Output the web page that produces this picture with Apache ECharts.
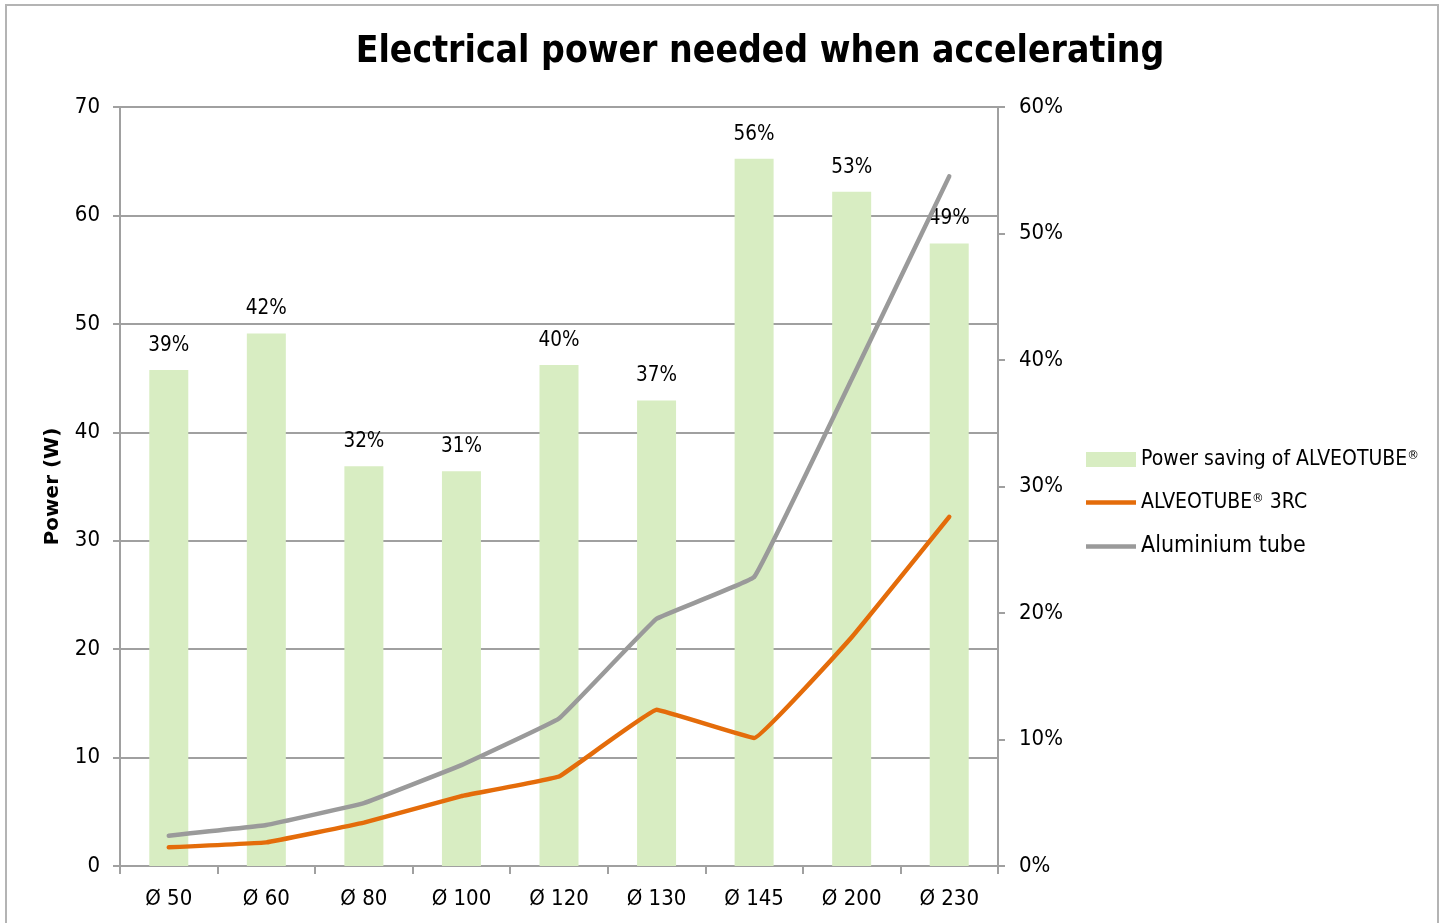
<!DOCTYPE html>
<html>
<head>
<meta charset="utf-8">
<script src="https://cdn.jsdelivr.net/npm/echarts@6/dist/echarts.min.js"></script>
<style>
html,body{margin:0;padding:0;background:#fff;}
#frame{position:absolute;left:5px;top:4px;width:1434px;height:930px;border:2px solid #b4b4b4;box-sizing:border-box;}
#chart{position:absolute;left:0;top:0;width:1449px;height:923px;}
</style>
</head>
<body>
<div id="frame"></div>
<div id="chart"></div>
<script>
const categories = ['Ø 50','Ø 60','Ø 80','Ø 100','Ø 120','Ø 130','Ø 145','Ø 200','Ø 230'];
const savingPct = [0.392,0.421,0.316,0.312,0.396,0.368,0.559,0.533,0.492];
const alveotube = [1.72,2.18,4.0,6.45,8.25,14.4,11.8,21.1,32.2];
const aluminium = [2.8,3.78,5.8,9.3,13.6,22.8,26.65,44.9,63.6];
const leftTicks = {min:0,max:70,interval:10};
const rightTicks = {min:0,max:0.6,interval:0.1};

const FONT = '"DejaVu Sans Condensed","DejaVu Sans",sans-serif';
const LINE_ICON = 'path://M0,0 L50,0 L50,4.5 L0,4.5 Z';
const chart = echarts.init(document.getElementById('chart'), null, {renderer:'canvas'});
chart.setOption({
  animation:false,
  backgroundColor:'transparent',
  title:{
    text:'Electrical power needed when accelerating',
    left:755, top:29, textAlign:'center',
    textStyle:{fontFamily:FONT,fontWeight:'bold',fontSize:37,color:'#000'}
  },
  grid:{left:120,right:451,top:107,bottom:57,containLabel:false},
  legend:{
    orient:'vertical', left:1081, top:444, itemGap:22, itemWidth:50, itemHeight:15, itemTextGap:0,
    textStyle:{fontFamily:FONT,fontSize:21,color:'#000',
      rich:{s:{fontFamily:FONT,fontSize:13,color:'#000',verticalAlign:'top'}}},
    formatter:name=>name.replace('®','{s|®}'),
    data:[
      {name:'Power saving of ALVEOTUBE®', icon:'rect', textStyle:{fontSize:21}},
      {name:'ALVEOTUBE® 3RC', icon:LINE_ICON, textStyle:{fontSize:21}},
      {name:'Aluminium tube', icon:LINE_ICON, textStyle:{fontSize:23}}
    ]
  },
  xAxis:{
    type:'category', data:categories, boundaryGap:true,
    axisLine:{lineStyle:{color:'#a0a0a0',width:2}},
    axisTick:{show:true,length:8,lineStyle:{color:'#a0a0a0',width:2}},
    axisLabel:{fontFamily:FONT,fontSize:22,color:'#000',margin:22}
  },
  yAxis:[
    {type:'value',min:leftTicks.min,max:leftTicks.max,interval:leftTicks.interval,position:'left',
     name:'Power (W)',nameLocation:'middle',nameGap:57,nameRotate:90,
     nameTextStyle:{fontFamily:'"DejaVu Sans",sans-serif',fontWeight:'bold',fontSize:20,color:'#000'},
     axisLine:{show:true,lineStyle:{color:'#a0a0a0',width:2}},
     axisTick:{show:true,length:7,lineStyle:{color:'#a0a0a0',width:2}},
     splitLine:{show:true,lineStyle:{color:'#a0a0a0',width:2}},
     axisLabel:{fontFamily:FONT,fontSize:22,color:'#000',margin:20}},
    {type:'value',min:rightTicks.min,max:rightTicks.max,interval:rightTicks.interval,position:'right',
     axisLine:{show:true,lineStyle:{color:'#a0a0a0',width:2}},
     axisTick:{show:true,length:7,lineStyle:{color:'#a0a0a0',width:2}},
     splitLine:{show:false},
     axisLabel:{fontFamily:FONT,fontSize:22,color:'#000',margin:21,
       formatter:v=>Math.round(v*100)+'%'}}
  ],
  series:[
    {name:'Power saving of ALVEOTUBE®',type:'bar',yAxisIndex:1,data:savingPct,barWidth:39,
     itemStyle:{color:'#d8edc2'},
     label:{show:true,position:'top',distance:14,fontFamily:FONT,fontSize:20.5,color:'#000',
       formatter:p=>Math.round(p.value*100)+'%'}},
    {name:'ALVEOTUBE® 3RC',type:'line',yAxisIndex:0,data:alveotube,smooth:0.06,symbol:'none',
     lineStyle:{color:'#e46c0a',width:4.5,cap:'round'},itemStyle:{color:'#e46c0a'}},
    {name:'Aluminium tube',type:'line',yAxisIndex:0,data:aluminium,smooth:0.06,symbol:'none',
     lineStyle:{color:'#9a9a9a',width:4.5,cap:'round'},itemStyle:{color:'#9a9a9a'}}
  ]
});
</script>
</body>
</html>
